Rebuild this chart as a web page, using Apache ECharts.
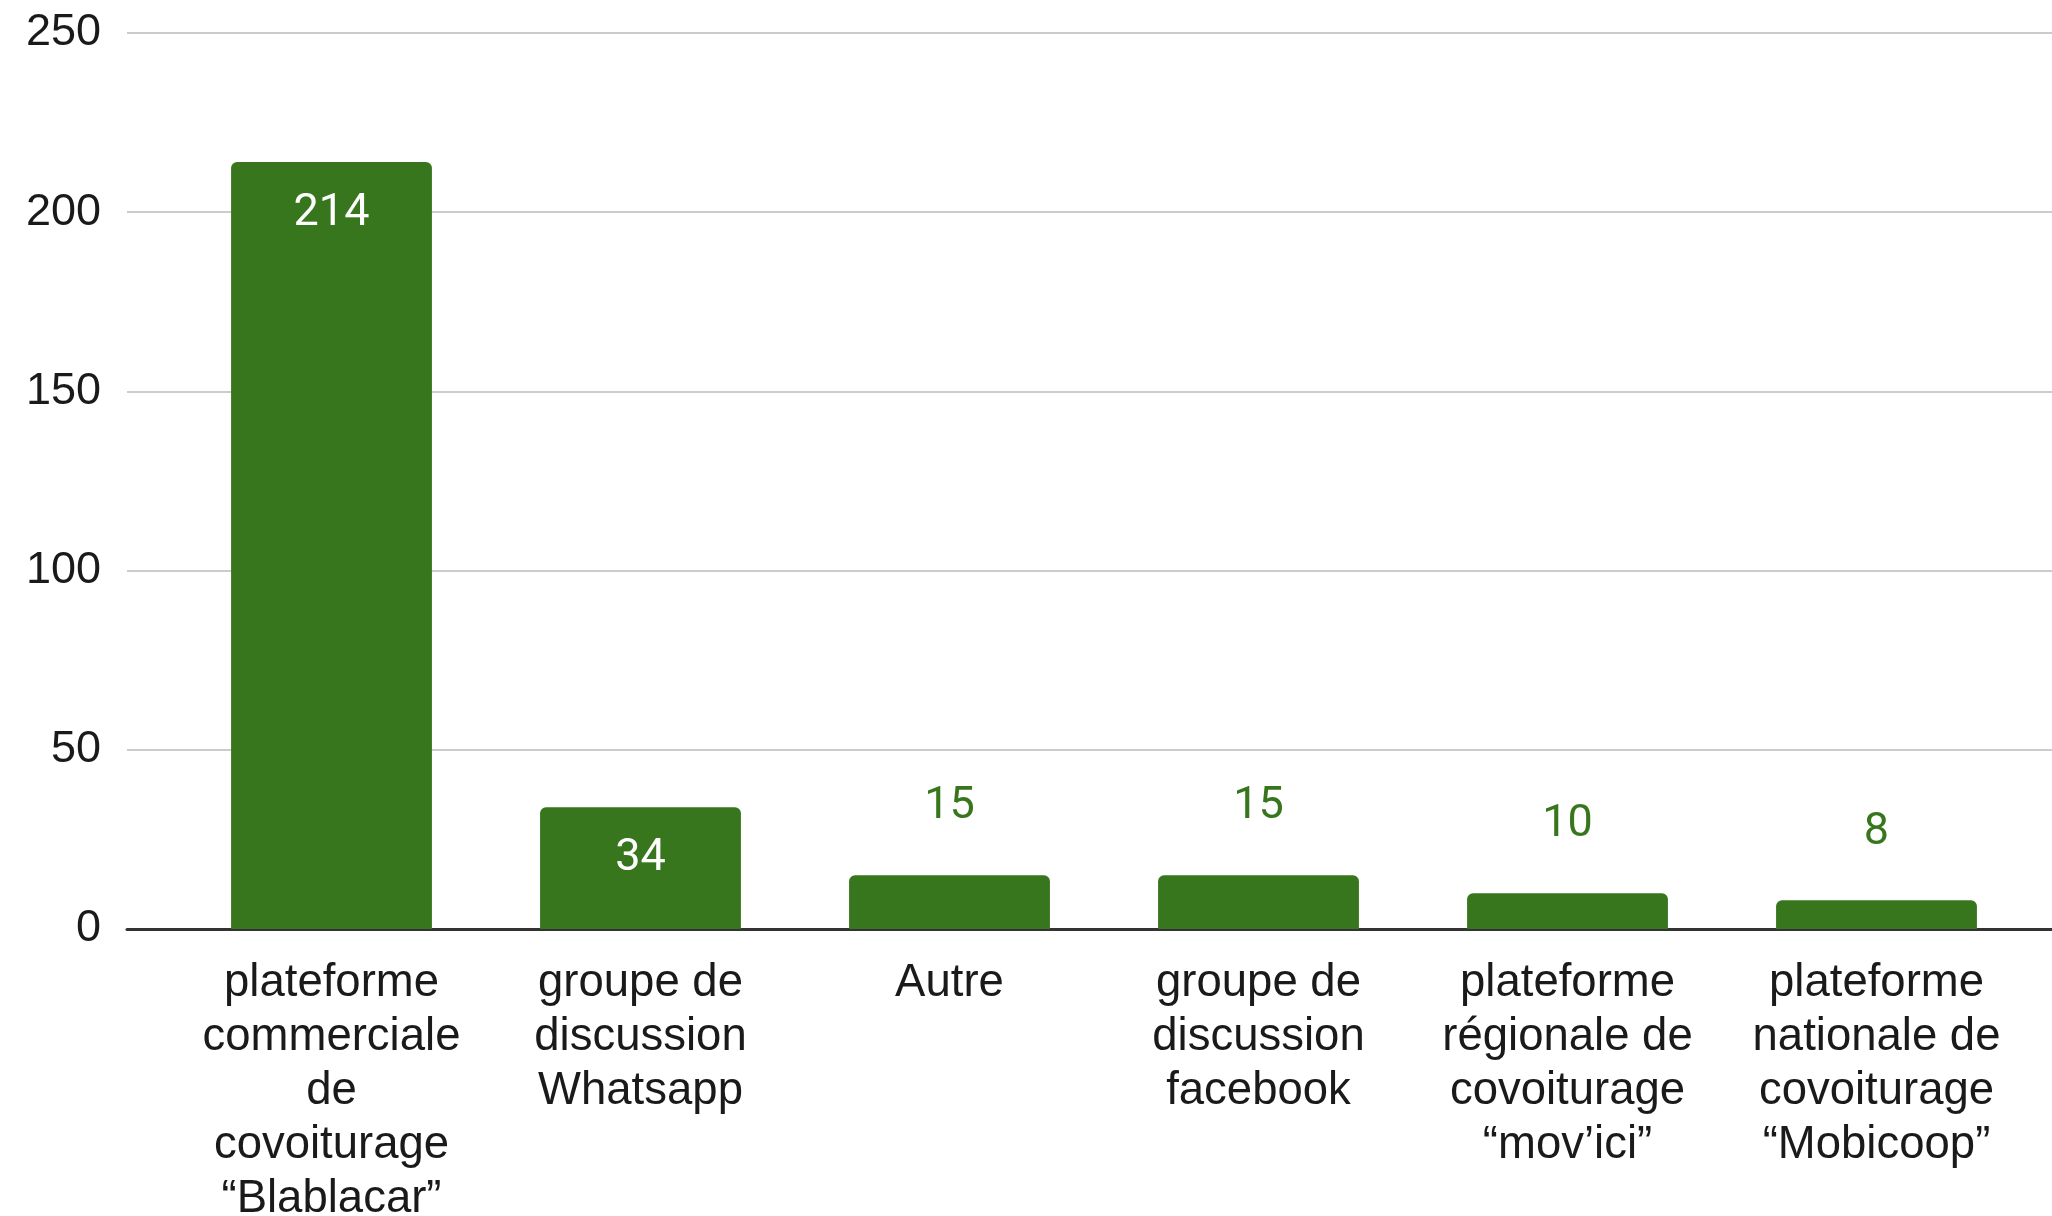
<!DOCTYPE html>
<html>
<head>
<meta charset="utf-8">
<script src="https://cdn.jsdelivr.net/npm/echarts@6/dist/echarts.min.js"></script>
<style>
html,body{margin:0;padding:0;background:#fff;}
#chart{width:2052px;height:1216px;}
</style>
</head>
<body>
<div id="chart"></div>
<script>
var categories = [
  "plateforme\ncommerciale\nde\ncovoiturage\n\u201cBlablacar\u201d",
  "groupe de\ndiscussion\nWhatsapp",
  "Autre",
  "groupe de\ndiscussion\nfacebook",
  "plateforme\nr\u00e9gionale de\ncovoiturage\n\u201cmov\u2019ici\u201d",
  "plateforme\nnationale de\ncovoiturage\n\u201cMobicoop\u201d"
];
var values = [214, 34, 15, 15, 10, 8];
var yTicks = [0, 50, 100, 150, 200, 250];

var GREEN = '#38761d';
var chart = echarts.init(document.getElementById('chart'), null, {renderer: 'canvas'});

var barData = values.map(function (v) {
  var inside = v >= 30;
  return {
    value: v,
    label: inside ? {
      position: 'insideTop', distance: 26, color: '#ffffff'
    } : {
      position: 'top', distance: 42, color: GREEN
    }
  };
});

var option = {
  backgroundColor: '#ffffff',
  animation: false,
  grid: [
    {left: 127, right: 0, top: 33, bottom: 287, containLabel: false, outerBoundsMode: 'none'},
    {left: 177, right: 21, top: 33, bottom: 287, containLabel: false, outerBoundsMode: 'none'}
  ],
  xAxis: [
    {
      type: 'value', gridIndex: 0, min: 0, max: 1,
      axisLine: {show: true, onZero: false, lineStyle: {color: '#333333', width: 3}},
      axisTick: {show: false}, axisLabel: {show: false}, splitLine: {show: false}
    },
    {
      type: 'category', gridIndex: 1, data: categories,
      axisLine: {show: false}, axisTick: {show: false},
      axisLabel: {
        interval: 0, margin: 27, color: '#1a1a1a',
        fontFamily: 'Liberation Sans, Arial, sans-serif', fontSize: 45.5, lineHeight: 54,
        align: 'center'
      }
    }
  ],
  yAxis: [
    {
      type: 'value', gridIndex: 0, min: yTicks[0], max: yTicks[yTicks.length - 1],
      interval: yTicks[1] - yTicks[0],
      axisLine: {show: false}, axisTick: {show: false},
      axisLabel: {
        margin: 26, color: '#1a1a1a',
        fontFamily: 'Liberation Sans, Arial, sans-serif', fontSize: 45
      },
      splitLine: {show: true, lineStyle: {color: '#cccccc', width: 2}}
    },
    {
      type: 'value', gridIndex: 1, min: yTicks[0], max: yTicks[yTicks.length - 1],
      show: false, splitLine: {show: false}
    }
  ],
  series: [
    {
      type: 'bar', xAxisIndex: 1, yAxisIndex: 1,
      data: barData,
      barCategoryGap: '35%',
      itemStyle: {color: GREEN, borderRadius: [6, 6, 0, 0]},
      label: {
        show: true, fontFamily: 'Roboto, sans-serif', fontSize: 45, lineHeight: 52
      },
      z: 3
    }
  ]
};
chart.setOption(option);
</script>
</body>
</html>
